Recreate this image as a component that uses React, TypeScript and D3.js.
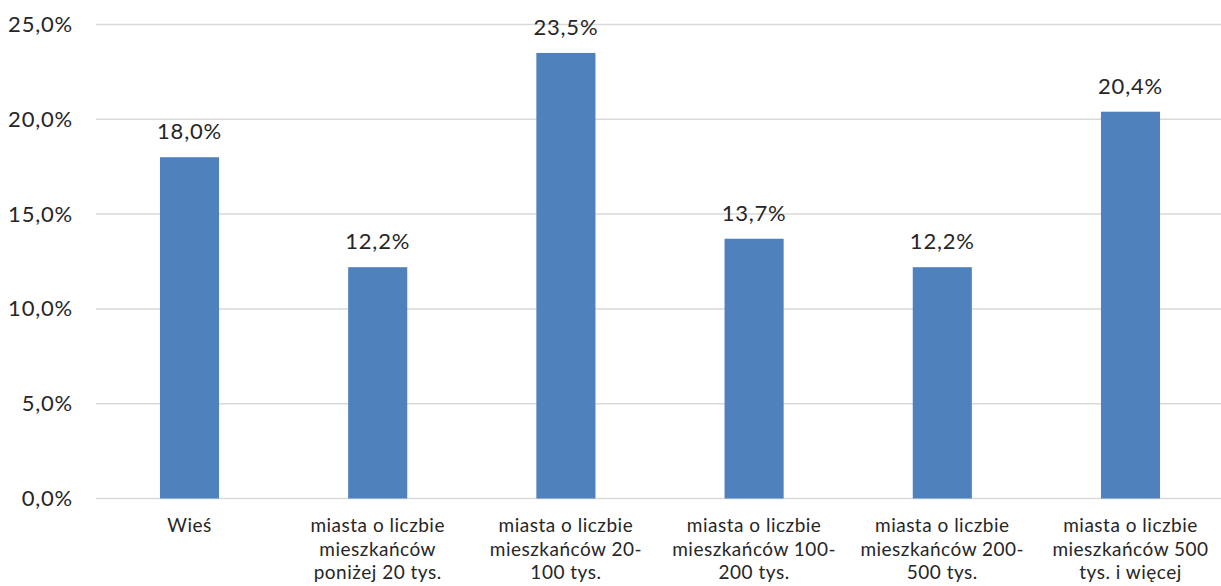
import React from "react";
import * as d3 from "d3";

const categories: string[][] = [
  ["Wieś"],
  ["miasta o liczbie", "mieszkańców", "poniżej 20 tys."],
  ["miasta o liczbie", "mieszkańców 20-", "100 tys."],
  ["miasta o liczbie", "mieszkańców 100-", "200 tys."],
  ["miasta o liczbie", "mieszkańców 200-", "500 tys."],
  ["miasta o liczbie", "mieszkańców 500", "tys. i więcej"],
];
const values: number[] = [18.0, 12.2, 23.5, 13.7, 12.2, 20.4];
const yTicks: number[] = [0, 5, 10, 15, 20, 25];

const W = 1221;
const H = 586;
const FONT = "'Century Gothic', 'URW Gothic', 'URW Gothic L', Lato, 'DejaVu Sans', sans-serif";
const fmt = (v: number) => v.toFixed(1).replace(".", ",") + "%";

export default function App() {
  const x = d3
    .scaleBand<number>()
    .domain(d3.range(categories.length))
    .range([95.4, 1224.6])
    .paddingInner(0.686)
    .paddingOuter(0.343);
  const y = d3.scaleLinear().domain([0, 25]).range([498.5, 24.5]);
  const bw = x.bandwidth();

  return (
    <svg
      width={W}
      height={H}
      style={{ position: "absolute", left: 0, top: 0, background: "#fff" }}
      fontFamily={FONT}
    >
      {yTicks.map((t) => (
        <g key={t}>
          <line x1={96} x2={W} y1={y(t)} y2={y(t)} stroke="#d9d9d9" strokeWidth={1.5} />
          <text
            x={73}
            y={y(t) + 7.5}
            textAnchor="end"
            fontSize={22}
            letterSpacing={0.8}
            fill="#262626"
          >
            {fmt(t)}
          </text>
        </g>
      ))}
      {values.map((v, i) => {
        const bx = x(i)!;
        return (
          <g key={i}>
            <rect x={bx} y={y(v)} width={bw} height={y(0) - y(v)} fill="#4f81bd" />
            <text
              x={bx + bw / 2}
              y={y(v) - 18}
              textAnchor="middle"
              fontSize={22}
              letterSpacing={0.8}
              fill="#262626"
            >
              {fmt(v)}
            </text>
            <text textAnchor="middle" fontSize={19} letterSpacing={0.5} fill="#262626">
              {categories[i].map((line, j) => (
                <tspan key={j} x={bx + bw / 2} y={532 + j * 23.7}>
                  {line}
                </tspan>
              ))}
            </text>
          </g>
        );
      })}
    </svg>
  );
}
